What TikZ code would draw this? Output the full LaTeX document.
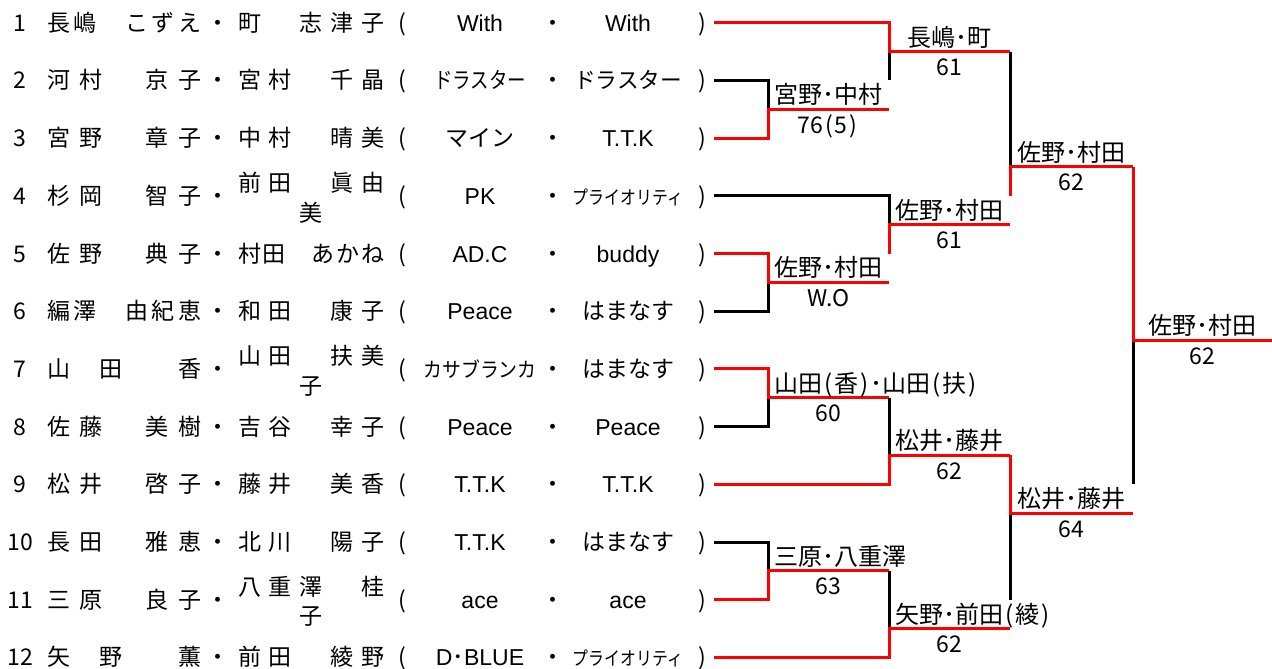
\documentclass[tikz,border=0pt]{standalone}
\usepackage{fontspec}
\usepackage{graphicx}
\setmainfont{Noto Sans CJK JP}
\newfontfamily\en{Liberation Sans}
\def\spreadaux#1{\ifx\relax#1\else#1\hfil\expandafter\spreadaux\fi}
\newcommand\spreadname[2]{\makebox[#1][s]{\expandafter\spreadaux#2\relax\hskip 0pt plus -1fil}}
\newcommand\hp[1]{\makebox[0.5em]{#1}}

\begin{document}
\begin{tikzpicture}[x=1pt, y=-28.85pt,
    txt/.style={anchor=base, inner sep=0pt, yshift=-8.5pt, font=\fontsize{23}{26}\selectfont},
    res/.style={anchor=base, inner sep=0pt, yshift=5.5pt, font=\fontsize{24}{26}\selectfont},
    score/.style={anchor=base, inner sep=0pt, yshift=-24pt, font=\fontsize{23}{26}\selectfont},
    win/.style={red, line width=3pt},
    lose/.style={black, line width=3pt}]
  \useasboundingbox (0,-0.787) rectangle (1272,22.402);

  \foreach \k/\no/\pa/\pb/\dy/\pbx/\ta/\tb in {
      0/1/長嶋　こずえ/町　志津子/0//{\en With}/{\en With},
      2/2/河村　京子/宮村　千晶/0//\scalebox{0.8}[0.97]{ドラスター}/\scalebox{0.94}[0.97]{ドラスター},
      4/3/宮野　章子/中村　晴美/0//マイン/{\en T.T.K},
      6/4/杉岡　智子/前田　眞由/-0.44/美/{\en PK}/\scalebox{0.69}[0.82]{プライオリティ},
      8/5/佐野　典子/村田　あかね/0//{\en AD.C}/{\en buddy},
      10/6/編澤　由紀恵/和田　康子/0//{\en Peace}/はまなす,
      12/7/山　田　　香/山田　扶美/-0.44/子/\scalebox{0.82}[0.9]{カサブランカ}/はまなす,
      14/8/佐藤　美樹/吉谷　幸子/0//{\en Peace}/{\en Peace},
      16/9/松井　啓子/藤井　美香/0//{\en T.T.K}/{\en T.T.K},
      18/10/長田　雅恵/北川　陽子/0//{\en T.T.K}/はまなす,
      20/11/三原　良子/八重澤　桂/-0.44/子/{\en ace}/{\en ace},
      22/12/矢　野　　薫/前田　綾野/0//{\en D}･{\en BLUE}/\scalebox{0.69}[0.82]{プライオリティ}}
  {
    \node[txt] (no\no) at (20,\k) {\no};
    \node[txt, anchor=base west] (pa\no) at (47,\k) {\spreadname{154pt}{\pa}};
    \node[txt] (dot\no) at (218,\k) {・};
    \node[txt, anchor=base west] (pb\no) at (238,{\k+\dy}) {\spreadname{146pt}{\pb}};
    \node[txt] (pc\no) at (311,{\k+0.58}) {\pbx};
    \node[txt] (op\no) at (402,\k) {(};
    \node[txt] (ta\no) at (480,\k) {\ta};
    \node[txt] (sep\no) at (553,\k) {・};
    \node[txt] (tb\no) at (628,\k) {\tb};
    \node[txt] (cp\no) at (702,\k) {)};
    \coordinate (e\no) at (714,\k);
  }

  \draw[lose] (e2) -| (768,3);
  \draw[win] (e3) -| (768,3) -- (889,3);
  \draw[lose] (e6) -| (768,9);
  \draw[win] (e5) -| (768,9) -- (889,9);
  \draw[lose] (e8) -| (768,13);
  \draw[win] (e7) -| (768,13) -- (889,13);
  \draw[lose] (e10) -| (768,19);
  \draw[win] (e11) -| (768,19) -- (889,19);

  \draw[lose] (889,1) -- (889,2);
  \draw[win] (e1) -| (889,1) -- (1010,1);
  \draw[lose] (e4) -| (889,7);
  \draw[win] (889,8) -- (889,7) -- (1010,7);
  \draw[lose] (889,13) -- (889,15);
  \draw[win] (e9) -| (889,15) -- (1010,15);
  \draw[lose] (889,19) -- (889,21);
  \draw[win] (e12) -| (889,21) -- (1010,21);

  \draw[lose] (1010,1) -- (1010,5);
  \draw[win] (1010,6) -- (1010,5) -- (1133,5);
  \draw[lose] (1010,17) -- (1010,20);
  \draw[win] (1010,15) -- (1010,17) -- (1133,17);

  \draw[lose] (1133,11) -- (1133,16);
  \draw[win] (1133,5) -- (1133,11) -- (1272,11);

  \node[res] (w1) at (828.5,3) {宮野･中村};
  \node[score] (s1) at (828.5,3) {76\hp(5\hp)};
  \node[res] (w2) at (828.5,9) {佐野･村田};
  \node[score] (s2) at (828.5,9) {W.O};
  \node[res, anchor=base west] (w3) at (774,13) {山田\hp(香\hp)･山田\hp(扶\hp)};
  \node[score] (s3) at (828.5,13) {60};
  \node[res, anchor=base west] (w4) at (774,19) {三原･八重澤};
  \node[score] (s4) at (828.5,19) {63};

  \node[res] (w5) at (949.5,1) {長嶋･町};
  \node[score] (s5) at (949.5,1) {61};
  \node[res] (w6) at (949.5,7) {佐野･村田};
  \node[score] (s6) at (949.5,7) {61};
  \node[res] (w7) at (949.5,15) {松井･藤井};
  \node[score] (s7) at (949.5,15) {62};
  \node[res, anchor=base west] (w8) at (895,21) {矢野･前田\hp(綾\hp)};
  \node[score] (s8) at (949.5,21) {62};

  \node[res] (w9) at (1071.5,5) {佐野･村田};
  \node[score] (s9) at (1071.5,5) {62};
  \node[res] (w10) at (1071.5,17) {松井･藤井};
  \node[score] (s10) at (1071.5,17) {64};

  \node[res] (w11) at (1202.5,11) {佐野･村田};
  \node[score] (s11) at (1202.5,11) {62};
\end{tikzpicture}
\end{document}
